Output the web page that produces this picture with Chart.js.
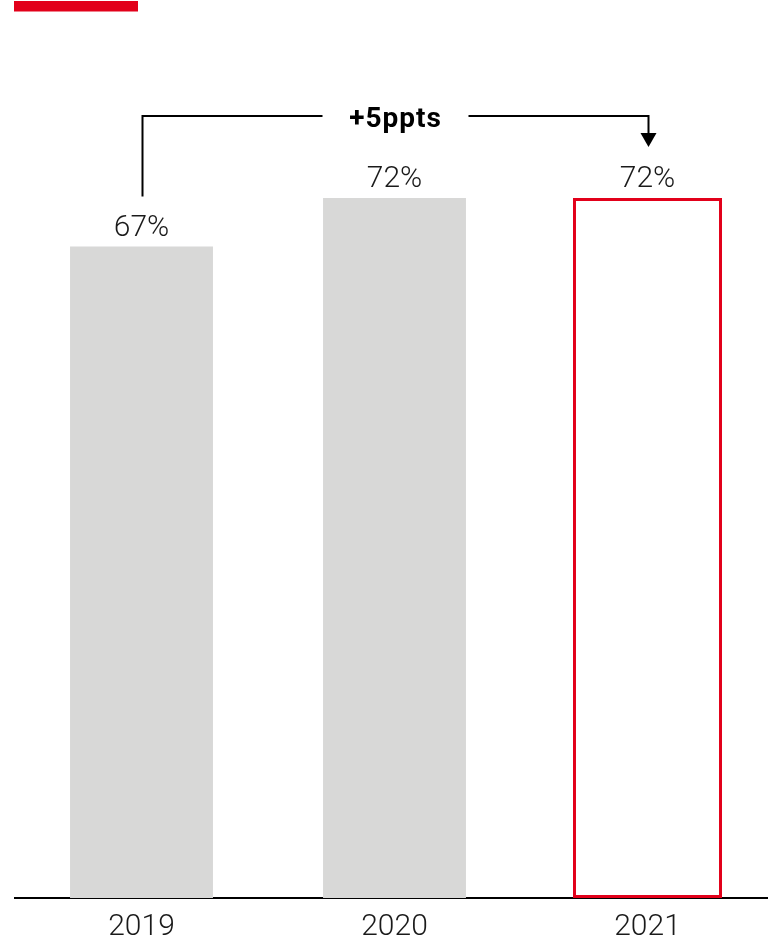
<!DOCTYPE html>
<html>
<head>
<meta charset="utf-8">
<script src="https://cdn.jsdelivr.net/npm/chart.js@4/dist/chart.umd.min.js"></script>
<style>
  html, body { margin: 0; padding: 0; background: #fff; overflow: hidden; width: 768px; height: 940px; }
  #wrap { position: relative; width: 768px; height: 940px; overflow: hidden; }
</style>
</head>
<body>
<div id="wrap"><canvas id="c" width="774" height="957"></canvas></div>
<script>
// Share by year (%)
const years = ['2019', '2020', '2021'];
const shares = [67, 72, 72];
const highlightYear = '2021';

const RED = '#e2001a';
const GREY = '#d8d8d7';
const INK = '#1a1a1a';
const NUM_FONT = 'Roboto, "Liberation Sans", Arial, sans-serif';

const greyValues = years.map((yr, i) => (yr === highlightYear ? null : shares[i]));
const redValues = years.map((yr, i) => (yr === highlightYear ? shares[i] : null));

// Value labels, the change bracket and the small red header stripe
const annotate = {
  id: 'annotate',
  afterDraw(chart) {
    const { ctx, scales: { x, y } } = chart;
    ctx.save();

    // header stripe
    ctx.fillStyle = RED;
    ctx.fillRect(14, 1, 124, 10.5);

    // value labels above bars
    ctx.font = '300 30px ' + NUM_FONT;
    ctx.fillStyle = INK;
    ctx.textAlign = 'center';
    ctx.textBaseline = 'alphabetic';
    shares.forEach((v, i) => {
      ctx.fillText(v + '%', x.getPixelForValue(i), y.getPixelForValue(v) - 11);
    });

    // bracket from first to last year
    const first = 0, last = shares.length - 1;
    const xa = Math.round(x.getPixelForValue(first)) + 0.5;
    const xb = Math.round(x.getPixelForValue(last)) + 0.5;
    const lineY = Math.round(y.getPixelForValue(Math.max(...shares)) - 82);
    const startBottom = y.getPixelForValue(shares[first]) - 50;
    const tipY = y.getPixelForValue(shares[last]) - 51;
    const mid = (xa + xb) / 2;
    const gap = 73;

    ctx.strokeStyle = '#000';
    ctx.lineWidth = 2;
    ctx.beginPath();
    ctx.moveTo(xa, startBottom);
    ctx.lineTo(xa, lineY);
    ctx.lineTo(mid - gap, lineY);
    ctx.moveTo(mid + gap, lineY);
    ctx.lineTo(xb, lineY);
    ctx.lineTo(xb, tipY - 13);
    ctx.stroke();

    ctx.fillStyle = '#000';
    ctx.beginPath();
    ctx.moveTo(xb - 8, tipY - 14);
    ctx.lineTo(xb + 8, tipY - 14);
    ctx.lineTo(xb, tipY);
    ctx.closePath();
    ctx.fill();

    const delta = shares[last] - shares[first];
    ctx.font = 'bold 28px ' + NUM_FONT;
    if ('letterSpacing' in ctx) ctx.letterSpacing = '1px';
    ctx.fillText((delta >= 0 ? '+' : '') + delta + 'ppts', mid, lineY + 11);

    ctx.restore();
  }
};

new Chart(document.getElementById('c'), {
  type: 'bar',
  data: {
    labels: years,
    datasets: [
      {
        data: greyValues,
        backgroundColor: GREY,
        borderWidth: 0,
        grouped: false,
        categoryPercentage: 1,
        barPercentage: 0.565
      },
      {
        data: redValues,
        backgroundColor: '#ffffff',
        borderColor: RED,
        borderWidth: 3,
        borderSkipped: false,
        grouped: false,
        categoryPercentage: 1,
        barPercentage: 0.589
      }
    ]
  },
  options: {
    responsive: false,
    devicePixelRatio: 1,
    animation: false,
    layout: { padding: { top: 23, left: 15, right: 0, bottom: 0 } },
    plugins: {
      legend: { display: false },
      tooltip: { enabled: false }
    },
    scales: {
      x: {
        grid: { display: false, drawTicks: false },
        border: { display: true, color: '#000', width: 2 },
        ticks: {
          color: INK,
          padding: 13,
          font: { family: NUM_FONT, size: 30, weight: '300', lineHeight: 1.1 }
        }
      },
      y: {
        display: false,
        min: 0,
        max: 90
      }
    }
  },
  plugins: [annotate]
});
</script>
</body>
</html>
